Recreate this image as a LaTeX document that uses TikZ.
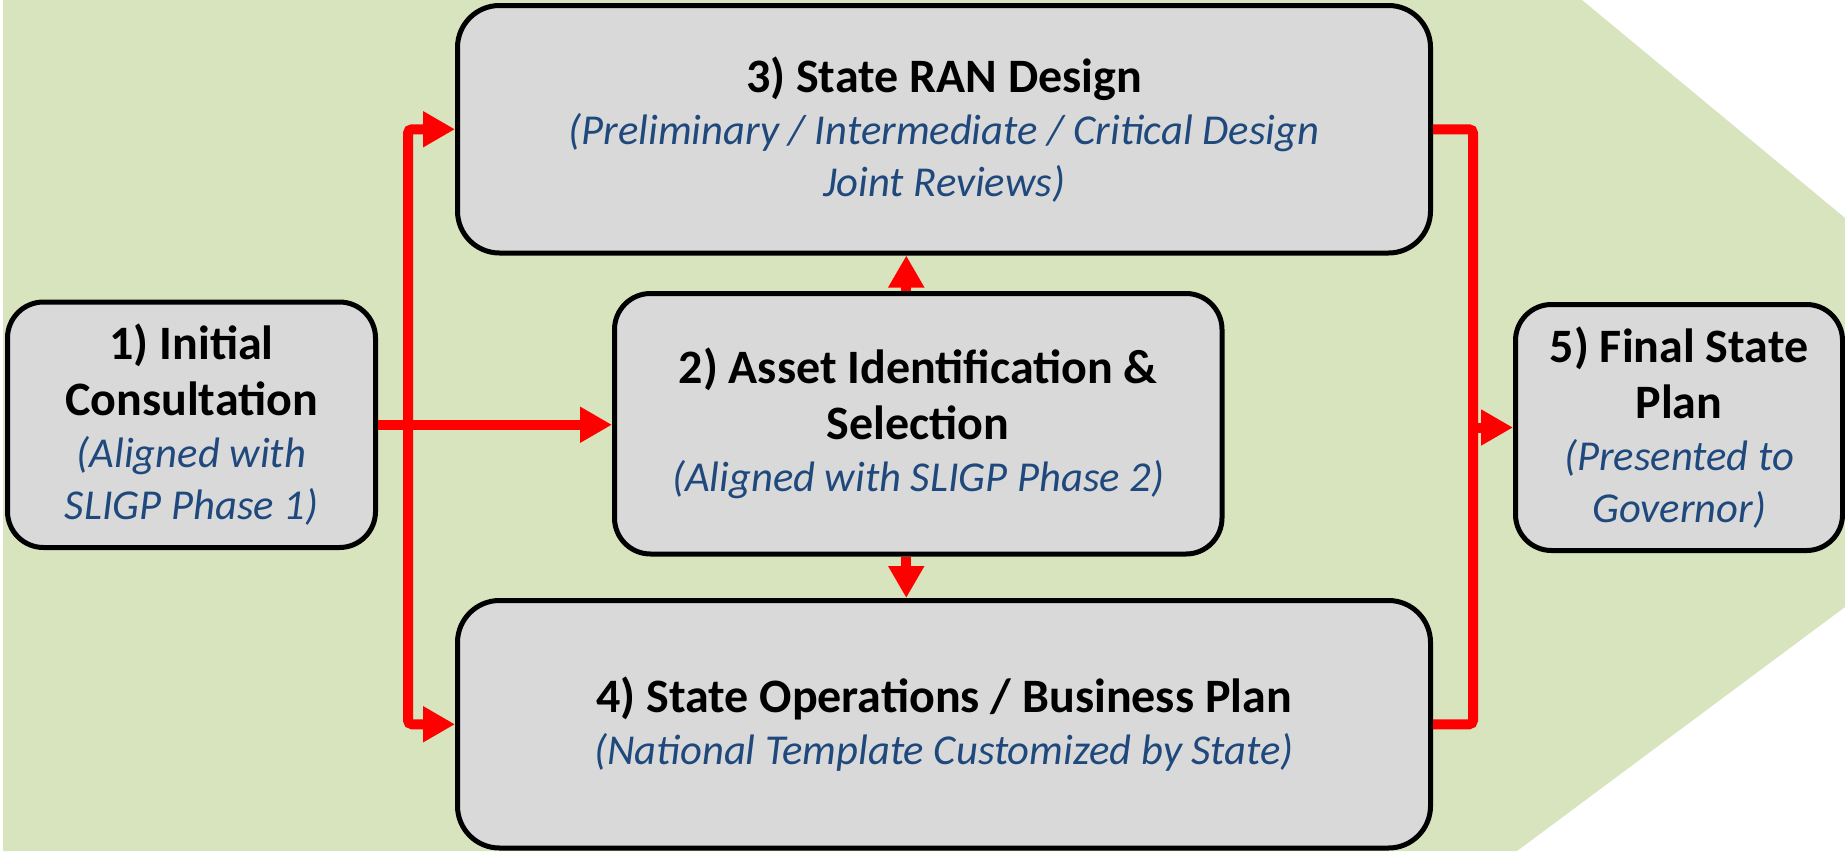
\documentclass[tikz,border=0pt]{standalone}
\usepackage{fontspec}
\setmainfont{Carlito}
\usepackage{xcolor}
\usetikzlibrary{arrows.meta}

\definecolor{bggreen}{HTML}{D7E4BD}
\definecolor{boxgray}{HTML}{D9D9D9}
\definecolor{notebl}{HTML}{1F497D}
\definecolor{flowred}{HTML}{FF0000}

\newcommand{\stagenote}[1]{{\fontsize{21.3}{25}\selectfont\itshape\color{notebl}#1}}

\tikzset{
  stage/.style={draw=black, line width=2.5pt, fill=boxgray, rounded corners=18pt,
    align=center, inner sep=0pt, font=\fontsize{24}{26}\selectfont},
  flow/.style={draw=flowred, line width=5pt, rounded corners=2pt,
    -{Triangle[length=16pt,width=17pt]}},
  flowline/.style={draw=flowred, line width=5pt, rounded corners=2pt},
}

\begin{document}
\begin{tikzpicture}[x=0.5pt, y=-0.5pt]
  \useasboundingbox (0,0) rectangle (1845,851);
  \fill[white] (0,0) rectangle (1845,851);
  \fill[bggreen] (3,0) -- (1582,0) -- (1845,218) -- (1845,607)
                 -- (1517,851) -- (3,851) -- cycle;

  \node[stage, minimum width=184pt, minimum height=122.75pt] (init) at (191.5,424.75)
    {\textbf{1) Initial}\\[2pt] \textbf{Consultation}\\ \stagenote{(Aligned with}\\ \stagenote{SLIGP Phase 1)}};
  \node[stage, minimum width=303.75pt, minimum height=130.25pt] (asset) at (918.25,423.75)
    {\textbf{2) Asset Identification \&}\\[2pt] \textbf{Selection}\\ \stagenote{(Aligned with SLIGP Phase 2)}};
  \node[stage, rounded corners=21pt, minimum width=486.5pt, minimum height=123.75pt] (ran) at (944,129.25)
    {\textbf{3) State RAN Design}\\ \stagenote{(Preliminary / Intermediate / Critical Design}\\ \stagenote{Joint Reviews)}};
  \node[stage, rounded corners=21pt, minimum width=486.5pt, minimum height=123.75pt] (ops) at (944,724.25)
    {\textbf{4) State Operations / Business Plan}\\ \stagenote{(National Template Customized by State)}};
  \node[stage, minimum width=163.5pt, minimum height=123pt] (final) at (1679,427.5)
    {\textbf{5) Final State}\\[2pt] \textbf{Plan}\\ \stagenote{(Presented to}\\ \stagenote{Governor)}};

  \coordinate (lsplit) at (408,424);
  \coordinate (rsplit) at (1473,427.5);

  \draw[flow] (lsplit) |- (ran.west);
  \draw[flow] (lsplit) |- (ops.west);
  \draw[flow] (init.east) -- (init.east -| asset.west);
  \draw[flow] ([xshift=-6pt]asset.north) -- ([xshift=-6pt]asset.north |- ran.south);
  \draw[flow] ([xshift=-6pt]asset.south) -- ([xshift=-6pt]asset.south |- ops.north);
  \draw[flowline] (ran.east) -| (rsplit) |- (ops.east);
  \draw[flow] (rsplit) -- (rsplit -| final.west);
\end{tikzpicture}
\end{document}
